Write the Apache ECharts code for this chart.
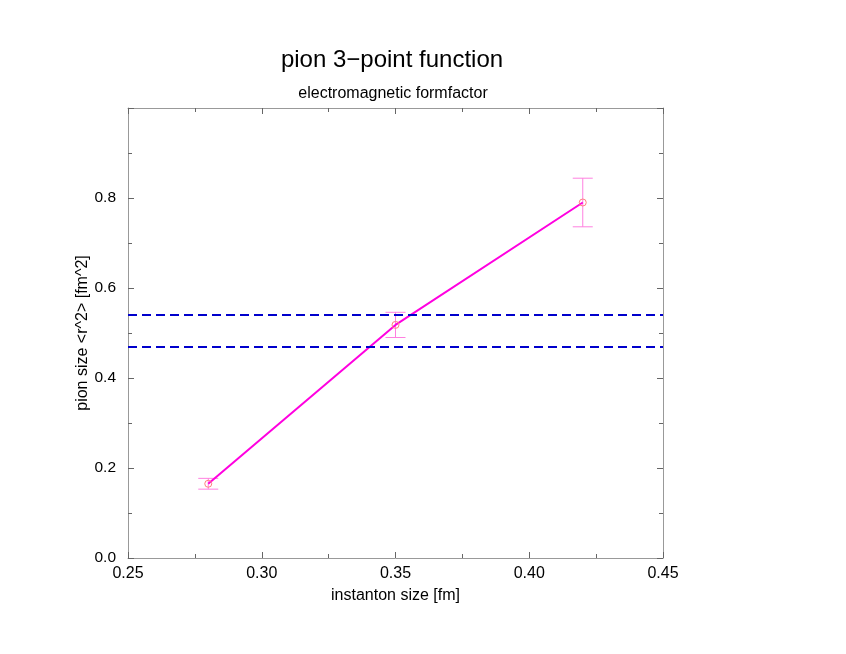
<!DOCTYPE html>
<html><head><meta charset="utf-8">
<script src="https://cdn.jsdelivr.net/npm/echarts@6/dist/echarts.min.js"></script>
<style>html,body{margin:0;padding:0;background:#fff}#c{width:846px;height:654px}</style>
</head><body><div id="c"></div>
<script>
var xValues = [0.28, 0.35, 0.42];
var yValues = [0.165, 0.518, 0.790];
var yErrors = [0.012, 0.028, 0.054];
var bandLines = [0.540, 0.468];
var xTicks = [0.25, 0.30, 0.35, 0.40, 0.45];
var yTicks = [0.0, 0.2, 0.4, 0.6, 0.8];

var pts = xValues.map(function(x, i){ return [x, yValues[i]]; });
var errs = xValues.map(function(x, i){ return [x, yValues[i] - yErrors[i], yValues[i] + yErrors[i]]; });

var font = 'Liberation Sans, Arial, sans-serif';
var axisColor = '#999';
function baseAxis(extra){
  var a = {
    type: 'value',
    axisLine: {show: true, onZero: false, lineStyle: {color: axisColor, width: 1}},
    axisTick: {show: true, inside: true, length: 6, lineStyle: {color: '#666'}},
    minorTick: {show: true, splitNumber: 2, length: 4, lineStyle: {color: '#666'}},
    splitLine: {show: false},
    axisLabel: {show: false}
  };
  for (var k in extra) a[k] = extra[k];
  return a;
}

var chart = echarts.init(document.getElementById('c'), null, {renderer: 'canvas'});
chart.setOption({
  animation: false,
  backgroundColor: '#fff',
  title: [
    {text: 'pion 3\u2212point function', left: 387, top: 43, textAlign: 'center',
     textStyle: {fontFamily: font, fontSize: 24, fontWeight: 'normal', color: '#000'}},
    {text: 'electromagnetic formfactor', left: 388, top: 81, textAlign: 'center',
     textStyle: {fontFamily: font, fontSize: 16, fontWeight: 'normal', color: '#000'}}
  ],
  grid: {left: 128, right: 183, top: 108, bottom: 96},
  xAxis: [
    baseAxis({min: 0.25, max: 0.45, interval: 0.05, position: 'bottom',
      name: 'instanton size [fm]', nameLocation: 'middle', nameGap: 30, nameMoveOverlap: false,
      nameTextStyle: {fontFamily: font, fontSize: 16, color: '#000'},
      axisLabel: {show: true, margin: 8, color: '#000', fontFamily: font, fontSize: 16,
        formatter: function(v){ return xTicks.some(function(t){return Math.abs(t-v)<1e-9;}) ? v.toFixed(2) : ''; }}}),
    baseAxis({min: 0.25, max: 0.45, interval: 0.05, position: 'top'})
  ],
  yAxis: [
    baseAxis({min: 0, max: 1.0, interval: 0.2, position: 'left',
      name: 'pion size <r^2> [fm^2]', nameLocation: 'middle', nameGap: 37, nameMoveOverlap: false,
      nameTextStyle: {fontFamily: font, fontSize: 16, color: '#000'},
      axisLabel: {show: true, margin: 12, color: '#000', fontFamily: font, fontSize: 15.5,
        formatter: function(v){ return yTicks.some(function(t){return Math.abs(t-v)<1e-9;}) ? v.toFixed(1) : ''; }}}),
    baseAxis({min: 0, max: 1.0, interval: 0.2, position: 'right'})
  ],
  series: [
    {type: 'line', data: pts, symbol: 'none', lineStyle: {color: '#ff00e0', width: 2}, z: 3,
     markLine: {silent: true, symbol: 'none', label: {show: false},
       lineStyle: {color: '#0000cc', width: 2, type: [9, 5]},
       data: bandLines.map(function(v){ return {yAxis: v}; })}},
    {type: 'custom', data: errs, z: 2,
     renderItem: function(params, api){
       var x = api.value(0);
       var lo = api.coord([x, api.value(1)]);
       var hi = api.coord([x, api.value(2)]);
       var w = 10;
       var st = {stroke: '#ff80e0', lineWidth: 1};
       return {type: 'group', children: [
         {type: 'line', shape: {x1: lo[0], y1: lo[1], x2: hi[0], y2: hi[1]}, style: st},
         {type: 'line', shape: {x1: lo[0]-w, y1: lo[1], x2: lo[0]+w, y2: lo[1]}, style: st},
         {type: 'line', shape: {x1: hi[0]-w, y1: hi[1], x2: hi[0]+w, y2: hi[1]}, style: st}
       ]};
     }},
    {type: 'scatter', data: pts, symbol: 'circle', symbolSize: 7, z: 4,
     itemStyle: {color: 'rgba(0,0,0,0)', borderColor: '#ff8080', borderWidth: 1, opacity: 1}}
  ]
});
</script></body></html>
